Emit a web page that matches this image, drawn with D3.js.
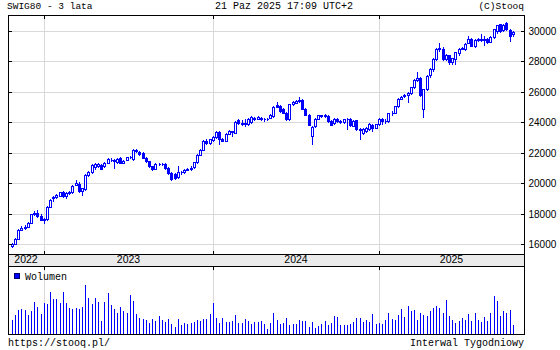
<!DOCTYPE html>
<html><head><meta charset="utf-8">
<script src="https://cdn.jsdelivr.net/npm/d3@7"></script>
<style>body{margin:0;background:#fff}svg{display:block}</style>
</head><body>
<svg id="c" width="560" height="350"></svg>
<script>
// ---------- data ----------
const titleText = "SWIG80 - 3 lata";
const dateText = "21 Paz 2025 17:09 UTC+2";
const copyText = "(C)Stooq";
const urlText = "https://stooq.pl/";
const intervalText = "Interwal Tygodniowy";
const volumeLabel = "Wolumen";

const open = [15880,16030,16350,16950,17050,17150,17400,17950,18050,17850,
17580,17620,18450,19000,19100,19180,19450,19150,19350,19400,
19900,19970,19500,19620,20560,20720,21050,21120,21224,21100,
21330,21550,21490,21380,21660,21350,21550,21700,21600,22200,
22050,21990,21660,21440,21115,20940,21290,21250,21290,21000,
20650,20600,20400,20700,20720,20890,20930,21050,21380,21880,
22210,22800,22650,22850,23040,23350,22910,22800,23260,23420,
23310,24120,23970,23920,23860,24010,24300,24230,24300,24230,
24185,24300,24405,25110,25060,24890,24620,24185,25170,25300,
25390,25460,24890,24510,23130,23740,24230,24420,24400,24400,
24070,23960,24230,24070,24000,24185,24200,23780,24140,23540,
23300,23400,23560,23800,23650,23860,24190,24100,24100,24580,
24620,25060,25550,25700,25800,25900,26310,26800,26900,24900,
26160,27080,27480,28140,28800,28840,28180,28400,27950,28180,
28530,28840,28840,29240,29500,29030,29400,29450,29420,29500,
29300,29600,30000,30440,30050,30550,30050,29780];
const high = [16050,16380,17000,17200,17250,17450,18000,18200,18260,17950,
17700,18480,18950,19180,19280,19450,19500,19400,19480,19900,
20230,20050,19700,20600,20780,21230,21320,21350,21280,21380,
21650,21620,21600,21650,21700,21500,21750,21780,22250,22250,
22100,22050,21700,21480,21150,21330,21350,21350,21330,21050,
20700,20650,21100,20800,20950,21000,21100,21420,21920,22250,
22850,22870,22920,23080,23400,23400,22950,23300,23470,23460,
24080,24200,24120,24230,24280,24400,24350,24400,24350,24280,
24300,24520,25060,25350,25120,24950,24660,25200,25380,25450,
25680,25500,24950,24550,23750,24280,24500,24500,24560,24450,
24120,24280,24280,24120,24230,24300,24250,24120,24180,23600,
23620,23680,23980,23900,23900,24250,24250,24200,24620,24750,
25100,25600,25750,25850,26000,26350,26850,27300,26950,26200,
27100,27600,28200,28850,29240,28950,28500,28450,28250,28650,
28900,28950,29200,29670,29550,29450,29550,29780,29650,29550,
29650,30150,30420,30450,30480,30600,30100,29980];
const low = [15800,16000,16300,16900,17000,17100,17350,17900,17780,17550,
17350,17550,18400,18820,19050,19150,19100,19050,19300,19350,
19850,19400,19250,19580,20500,20680,20950,21080,20900,21050,
21300,21450,21000,21350,21300,21300,21500,21650,21550,22050,
21880,21620,21400,21080,20850,20900,21200,21200,20950,20600,
20200,20250,20350,20600,20680,20850,20880,21000,21350,21850,
22180,22540,22600,22800,23000,22600,22750,22750,23250,23090,
23280,23900,23850,23750,23820,23980,24150,24200,24150,24100,
24150,24250,24380,24980,24700,24580,24150,24150,25120,25250,
25350,24850,24480,23800,22540,23700,24200,24350,24350,24030,
23820,23920,24030,23950,23950,23570,23750,23740,23500,22910,
23250,23350,23500,23450,23600,23820,23900,23980,24050,24500,
24580,25000,25500,25650,25350,25850,26250,26700,25700,24340,
26100,27000,27400,28100,28700,28100,28100,27850,27800,27850,
28450,28800,28750,29200,29000,28980,29350,29350,29100,29200,
29250,29550,29900,29950,29980,30050,29350,29700];
const close = [15980,16330,16940,17050,17150,17400,17950,18050,17820,17600,
17620,18430,18900,19100,19200,19400,19150,19350,19420,19840,
20000,19470,19650,20560,20720,21180,21270,21290,20940,21330,
21600,21500,21470,21600,21330,21440,21700,21720,22200,22100,
21930,21660,21440,21115,20900,21290,21250,21290,21000,20650,
20250,20350,20700,20720,20890,20930,21000,21380,21880,22210,
22800,22650,22870,23040,23350,22910,22800,23260,23420,23380,
24030,23970,23900,23966,24230,24340,24230,24340,24230,24185,
24230,24470,25020,25020,24730,24620,24185,25170,25330,25390,
25460,24890,24510,23850,23700,24230,24450,24450,24510,24070,
23850,24230,24070,24000,24185,24230,23800,24070,23530,23520,
23570,23630,23900,23650,23860,24190,24100,24080,24580,24630,
25060,25550,25680,25790,25900,26310,26780,26930,25800,26160,
27040,27520,28140,28800,28900,28180,28400,27950,28200,28620,
28840,28900,29170,29500,29020,29400,29450,29420,29500,29300,
29600,30100,30380,30000,30420,30100,29650,29930];
const volume = [14,19,24,24.7,24,19,23,32,26.7,20,
31.3,30,42,35,35,31.3,42,31.3,26,25,
26,25,27.3,49,36,30,36,32,13,32,
41,29,25,21,27,23,21,39,33,20,
16,15,14,11,15,13,18,14,12,15,
10,7,15,9,11,10,11,12,14,13,
15,15,20,31,16,11,16,12,12,13,
19,11,11,15,13,10,12,12,13,10,
5,11,21,14,10,11,16,9,10,10,
14,13,13,7,12,6,8,10,13,9,
11,18,17,9,9,9,10,12,16,16,
12,14,12,20,10,11,10,14,21,15,
14,19,25,17,28,23,24,14,21,19,
18,23,26,28,26,21,34,18,14,11,
13,16,14,20,13,21,14,12,17,13,
21,38,33,18,23,21,24,9];
const priceTicks = [16000,18000,20000,22000,24000,26000,28000,30000];
const yearLabels = ["2022","2023","2024","2025"];
const yearStartIndex = [10,63,115]; // first weekly bar of 2023, 2024, 2025

// ---------- layout ----------
const L = 8, R = 524, T = 15, B = 254, bandB = 266, volB = 334;
const blue = "#0000ff", grid = "#d9d9d9", band = "#ebebeb";
const mono = "'Liberation Mono','DejaVu Sans Mono',monospace";
const sans = "'Liberation Sans',Arial,sans-serif";

const svg = d3.select("#c");
svg.append("rect").attr("width",560).attr("height",350).attr("fill","#fff");

const idx = d3.range(close.length);
const x = d3.scaleLinear().domain([-1.35, 160.35]).range([L, R]);
const y = d3.scaleLinear().domain([16000, 30000]).range([244, 31]);
const yv = d3.scaleLinear().domain([0, 68]).range([volB, volB - 68]);
const col = i => Math.floor(x(i));
const row = v => Math.round(y(v));

// band background
svg.append("rect").attr("x",L).attr("y",B).attr("width",R-L).attr("height",bandB-B).attr("fill",band);

// horizontal grid
const g = svg.append("g").attr("shape-rendering","crispEdges");
g.selectAll("line.h").data(priceTicks).join("line")
  .attr("x1",L).attr("x2",R).attr("y1",d=>row(d)+0.5).attr("y2",d=>row(d)+0.5)
  .attr("stroke",grid);
// vertical year grid in price and volume panels
g.selectAll("line.v1").data(yearStartIndex).join("line")
  .attr("x1",d=>col(d)+0.5).attr("x2",d=>col(d)+0.5).attr("y1",T).attr("y2",B)
  .attr("stroke",grid);
g.selectAll("line.v2").data(yearStartIndex).join("line")
  .attr("x1",d=>col(d)+0.5).attr("x2",d=>col(d)+0.5).attr("y1",bandB).attr("y2",volB)
  .attr("stroke",grid);

// candles
const cg = svg.append("g").attr("shape-rendering","crispEdges");
cg.selectAll("line.w").data(idx).join("line")
  .attr("x1",i=>col(i)+0.5).attr("x2",i=>col(i)+0.5)
  .attr("y1",i=>row(high[i])).attr("y2",i=>row(low[i])+1)
  .attr("stroke",blue);
cg.selectAll("path.b").data(idx).join("path")
  .attr("d",i=>{
    const t = row(Math.max(open[i],close[i])), b = row(Math.min(open[i],close[i]));
    const c = col(i);
    return `M${c-0.5},${t+0.5}h2v${b-t}h-2Z`;
  })
  .attr("fill",i=> close[i]>=open[i] ? "#fff" : blue)
  .attr("stroke",blue);

// volume bars
svg.append("g").attr("shape-rendering","crispEdges")
  .selectAll("rect").data(idx).join("rect")
  .attr("x",i=>col(i)).attr("width",1)
  .attr("y",i=>Math.round(yv(volume[i]))).attr("height",i=>volB-Math.round(yv(volume[i])))
  .attr("fill",blue);

// frames
const f = svg.append("g").attr("shape-rendering","crispEdges").attr("stroke","#000").attr("fill","none");
f.append("rect").attr("x",L+0.5).attr("y",T+0.5).attr("width",R-L).attr("height",volB-T);
f.append("line").attr("x1",L).attr("x2",R).attr("y1",B+0.5).attr("y2",B+0.5);
f.append("line").attr("x1",L).attr("x2",R).attr("y1",bandB+0.5).attr("y2",bandB+0.5);
// left inward ticks
f.selectAll("line.lt").data(priceTicks).join("line")
  .attr("x1",L).attr("x2",L+4).attr("y1",d=>row(d)+0.5).attr("y2",d=>row(d)+0.5);
// year ticks (top, around band)
yearStartIndex.forEach(d=>{
  const xx = col(d)+0.5;
  f.append("line").attr("x1",xx).attr("x2",xx).attr("y1",T).attr("y2",T+4);
  f.append("line").attr("x1",xx).attr("x2",xx).attr("y1",B-3).attr("y2",B);
  f.append("line").attr("x1",xx).attr("x2",xx).attr("y1",bandB).attr("y2",bandB+4);
});

// right axis (inward ticks, labels outside)
const ax = svg.append("g").attr("transform",`translate(${R+0.5},0)`)
  .call(d3.axisRight(y).tickValues(priceTicks).tickSize(-4).tickPadding(4).tickFormat(d3.format("d")));
ax.select(".domain").remove();
ax.selectAll(".tick").attr("transform",d=>`translate(0,${row(d)+0.5})`);
ax.selectAll(".tick line").attr("shape-rendering","crispEdges").attr("stroke","#000");
ax.selectAll(".tick text").attr("font-family",sans).attr("font-size",10).attr("fill","#000").attr("dy","0.34em");

// year labels in band
const bounds = [L, ...yearStartIndex.map(d=>col(d)), R];
svg.append("g").selectAll("text").data(yearLabels).join("text")
  .attr("x",(d,i)=>(bounds[i]+bounds[i+1])/2).attr("y",263)
  .attr("text-anchor","middle").attr("font-family",sans).attr("font-size",10.5).attr("fill","#000")
  .text(d=>d);

// legend
svg.append("rect").attr("x",14.5).attr("y",273.5).attr("width",5).attr("height",5)
  .attr("fill",blue).attr("stroke","#00006a").attr("shape-rendering","crispEdges");
svg.append("text").attr("x",25).attr("y",279.5).attr("font-family",mono).attr("font-size",10).text(volumeLabel);

// header / footer
svg.append("text").attr("x",7).attr("y",8.5).attr("font-family",mono).attr("font-size",9.5).text(titleText);
svg.append("text").attr("x",284).attr("y",8.5).attr("text-anchor","middle").attr("font-family",mono).attr("font-size",10).text(dateText);
svg.append("text").attr("x",524).attr("y",8.5).attr("text-anchor","end").attr("font-family",mono).attr("font-size",9.5).text(copyText);
svg.append("text").attr("x",8).attr("y",345.5).attr("font-family",mono).attr("font-size",10).text(urlText);
svg.append("text").attr("x",524).attr("y",345.5).attr("text-anchor","end").attr("font-family",mono).attr("font-size",10).text(intervalText);
</script>
</body></html>
